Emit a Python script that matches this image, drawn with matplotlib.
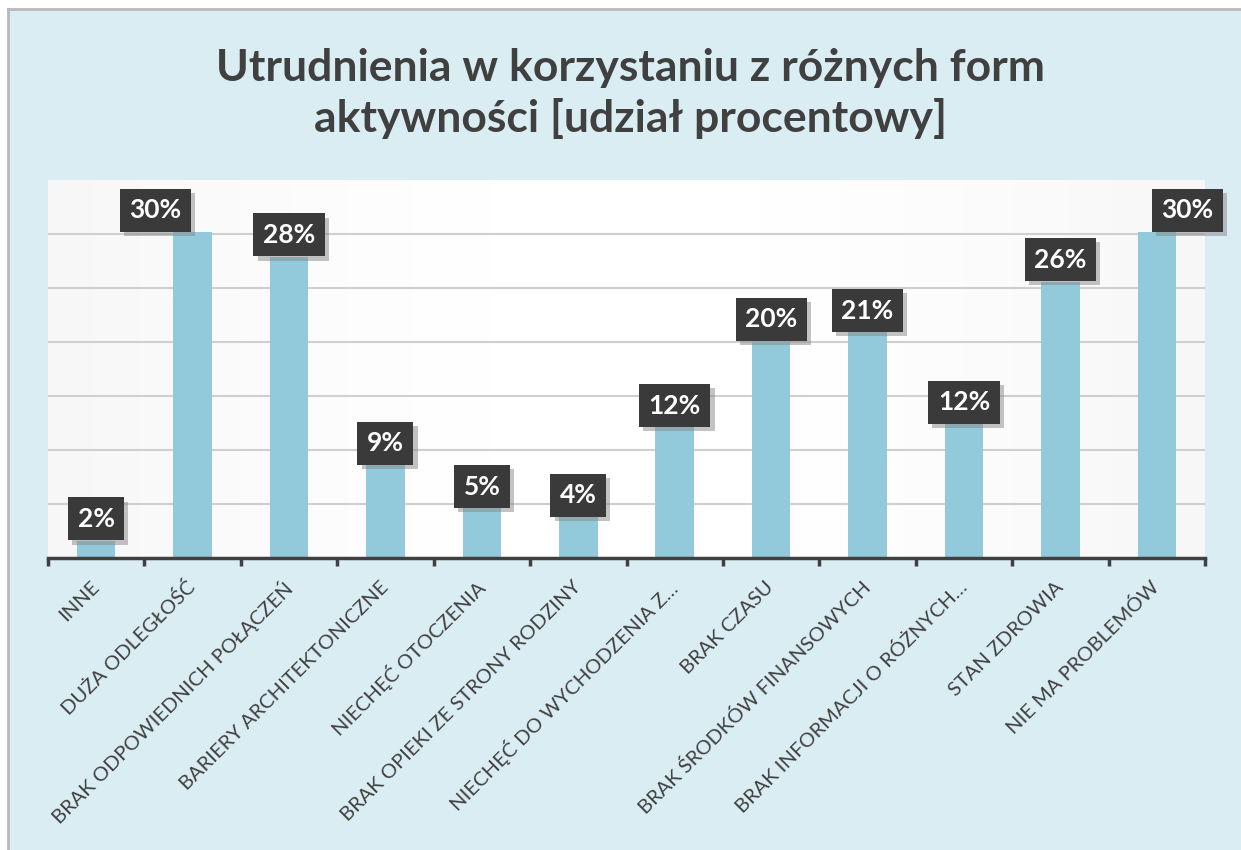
import matplotlib.pyplot as plt
import matplotlib.patheffects as pe
import numpy as np

plt.rcParams['font.family'] = ['Lato', 'DejaVu Sans']

# Dane
kategorie = ['INNE', 'DUŻA ODLEGŁOŚĆ', 'BRAK ODPOWIEDNICH POŁĄCZEŃ',
             'BARIERY ARCHITEKTONICZNE', 'NIECHĘĆ OTOCZENIA',
             'BRAK OPIEKI ZE STRONY RODZINY', 'NIECHĘĆ DO WYCHODZENIA Z…',
             'BRAK CZASU', 'BRAK ŚRODKÓW FINANSOWYCH',
             'BRAK INFORMACJI O RÓŻNYCH…', 'STAN ZDROWIA', 'NIE MA PROBLEMÓW']
udzial = [1.6, 30.2, 27.9, 8.6, 4.6, 3.8, 12.1, 20.1, 20.9, 12.4, 25.6, 30.2]

tytul = 'Utrudnienia w korzystaniu z różnych form\naktywności [udział procentowy]'

# przesuniecie etykiet (pkt) zeby nie wchodzily na siebie
przes_x = [0, -27, 0, 0, 0, 0, 0, 0, 0, 0, 0, 22]

tlo = '#daedf3'
ciemny = '#404040'

fig = plt.figure(figsize=(12.41, 8.5), dpi=100)
fig.patch.set_facecolor('white')

# tlo z ramka
tlo_ax = fig.add_axes([8/1241, 0, 1 - 8/1241, 1 - 9/850])
tlo_ax.set_facecolor(tlo)
tlo_ax.set_xticks([])
tlo_ax.set_yticks([])
for s in ['right', 'bottom']:
    tlo_ax.spines[s].set_visible(False)
for s in ['left', 'top']:
    tlo_ax.spines[s].set_color('#b8b8b8')
    tlo_ax.spines[s].set_linewidth(2)

ax = fig.add_axes([48/1241, (850-558)/850, (1205-48)/1241, (558-180)/850])
x = np.arange(len(kategorie))

# lekki gradient w tle wykresu
grad = 1 - 0.035*np.abs(np.linspace(-1, 1, 200))**1.5
ax.imshow(grad[None, :], cmap='gray', vmin=0, vmax=1, aspect='auto',
          extent=[-0.5, len(kategorie)-0.5, 0, 35], zorder=0)

ax.bar(x, udzial, width=0.4, color='#92cadb', zorder=3)
ax.set_xlim(-0.5, len(kategorie)-0.5)
ax.set_ylim(0, 35)
ax.set_yticks(np.arange(5, 35, 5))
ax.yaxis.grid(True, color='#cfcfcf', lw=1.5, zorder=1)
ax.tick_params(axis='y', length=0, labelleft=False)

ax.set_xticks(x)
ax.set_xticklabels(kategorie, rotation=45, ha='right', va='center',
                   rotation_mode='anchor', fontsize=14.5, color=ciemny)
ax.set_xticks(np.arange(-0.5, len(kategorie), 1), minor=True)
ax.tick_params(axis='x', which='major', length=0, pad=19)
ax.tick_params(axis='x', which='minor', length=6, width=2.5, color=ciemny)
for s in ['left', 'right', 'top']:
    ax.spines[s].set_visible(False)
ax.spines['bottom'].set_color(ciemny)
ax.spines['bottom'].set_linewidth(2.5)
ax.spines['bottom'].set_zorder(5)

for xi, v, dx in zip(x, udzial, przes_x):
    t = ax.annotate(f'{v:.0f}%', xy=(xi, v), xytext=(dx, 7),
                    textcoords='offset points', ha='center', va='bottom',
                    fontsize=19, fontweight='bold', color='white', zorder=6,
                    bbox=dict(boxstyle='square,pad=0.36', fc='#3a3a3a', ec='none'))
    t.get_bbox_patch().set_path_effects([
        pe.SimplePatchShadow(offset=(3, -3), shadow_rgbFace='#888888', alpha=0.5),
        pe.Normal()])

fig.text(0.508, 0.89, tytul, ha='center', va='center', fontsize=32,
         fontweight='bold', color=ciemny, linespacing=1.32)

fig.savefig('out.png', dpi=100, facecolor=fig.get_facecolor())
